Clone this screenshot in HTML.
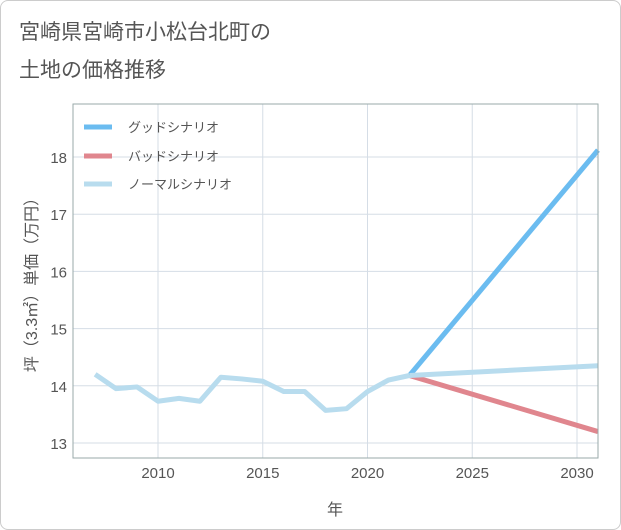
<!DOCTYPE html>
<html><head><meta charset="utf-8"><style>
body{margin:0;background:#fff;font-family:"Liberation Sans","Noto Sans CJK JP",sans-serif;}
#wrap{position:relative;width:619px;height:528px;border:1px solid #ccc;border-radius:8px;background:#fff;overflow:hidden}
svg text{font-family:"Liberation Sans","Noto Sans CJK JP",sans-serif}
</style></head><body>
<div id="wrap">
<svg id="c" width="621" height="530">
<text x="18" y="38" font-size="21" fill="#555">宮崎県宮崎市小松台北町の</text>
<text x="18" y="76" font-size="21" fill="#555">土地の価格推移</text>
<g id="grid"></g><g id="series"></g>
<rect x="72" y="103" width="525" height="354" fill="none" stroke="#9aa" stroke-width="1"/>
<text x="334" y="514" font-size="16" fill="#555" text-anchor="middle">年</text>
<text transform="translate(36,280) rotate(-90)" font-size="16" fill="#555" text-anchor="middle">坪（3.3㎡）単価（万円）</text>
<g>
<line x1="83" y1="126" x2="111" y2="126" stroke="#6bbcf0" stroke-width="5"/>
<text x="127" y="131" font-size="13" fill="#555">グッドシナリオ</text>
<line x1="83" y1="155" x2="111" y2="155" stroke="#e0868e" stroke-width="5"/>
<text x="127" y="160" font-size="13" fill="#555">バッドシナリオ</text>
<line x1="83" y1="183" x2="111" y2="183" stroke="#b8dcee" stroke-width="5"/>
<text x="127" y="188" font-size="13" fill="#555">ノーマルシナリオ</text>
</g>
</svg></div>
<script>
const histYears=[2007,2008,2009,2010,2011,2012,2013,2014,2015,2016,2017,2018,2019,2020,2021,2022];
const histValues=[14.2,13.95,13.98,13.73,13.78,13.73,14.15,14.12,14.08,13.9,13.9,13.57,13.6,13.9,14.1,14.18];
const projYears=[2022,2031];
const goodValues=[14.18,18.12];
const badValues=[14.18,13.2];
const normalValues=[14.18,14.35];
const xTicks=[2010,2015,2020,2025,2030];
const yTicks=[13,14,15,16,17,18];
const NS="http://www.w3.org/2000/svg";
const X=y=>157+(y-2010)*20.95;
const Y=v=>442-(v-13)*57.2;
const grid=document.getElementById('grid'),ser=document.getElementById('series');
function mk(tag,attrs,parent){const e=document.createElementNS(NS,tag);for(const k in attrs)e.setAttribute(k,attrs[k]);parent.appendChild(e);return e;}
xTicks.forEach(t=>{
 const l=mk('line',{x1:X(t),x2:X(t),y1:103,y2:457,stroke:'#d5dde6'},grid);
 
 
 const tx=mk('text',{x:X(t),y:477,'font-size':15,fill:'#555','text-anchor':'middle'},grid);tx.textContent=t;
 
 
});
yTicks.forEach(t=>{
 const l=mk('line',{x1:72,x2:597,y1:Y(t),y2:Y(t),stroke:'#d5dde6'},grid);
 
 
 const tx=mk('text',{x:66,y:Y(t)+6,'font-size':15,fill:'#555','text-anchor':'end'},grid);tx.textContent=t;
 
 
});
function line(xs,vs,color,name){
 const p=mk('polyline',{points:xs.map((x,i)=>X(x)+','+Y(vs[i])).join(' '),fill:'none',stroke:color,'stroke-width':5,'stroke-linejoin':'round'},ser);
 
 
}
line(projYears,goodValues,'#6bbcf0','good-scenario-line');
line(projYears,badValues,'#e0868e','bad-scenario-line');
line(projYears,normalValues,'#b8dcee','normal-scenario-line');
line(histYears,histValues,'#b8dcee','historical-line');
</script>
</body></html>
